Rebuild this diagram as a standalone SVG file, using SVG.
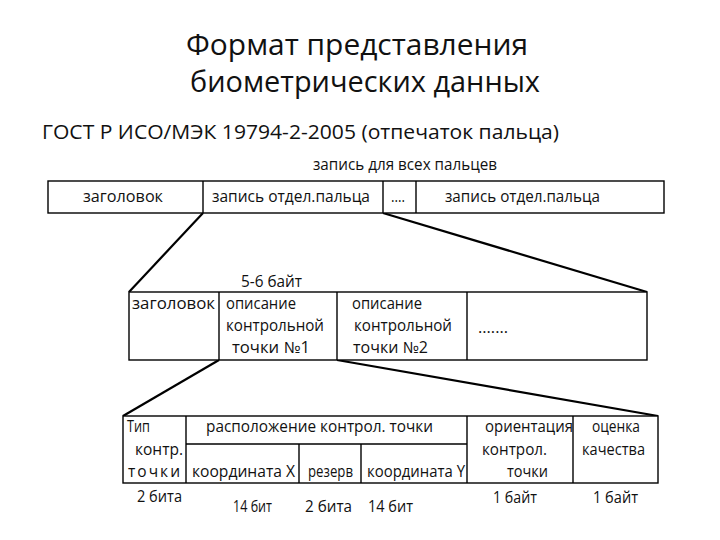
<svg xmlns="http://www.w3.org/2000/svg" width="720" height="540" viewBox="0 0 720 540">
<style>
text { font-family: "Open Sans", "Noto Sans", "DejaVu Sans", sans-serif; fill: #111; }
.t { font-size: 30px; }
.g { font-size: 20px; }
.s { font-size: 15.5px; }
.box { fill: #fff; stroke: #000; stroke-width: 1.4; }
.div { stroke: #000; stroke-width: 1.4; fill: none; }
.con { stroke: #000; stroke-width: 2.2; fill: none; }
</style>
<rect x="0" y="0" width="720" height="540" fill="#fff"/>

<g id="title">
<text class="t" x="186" y="55" textLength="342" lengthAdjust="spacingAndGlyphs">Формат представления</text>
<text class="t" x="190" y="92" textLength="350" lengthAdjust="spacingAndGlyphs">биометрических данных</text>
</g>
<g id="subtitle">
<text class="g" x="42" y="139" textLength="517" lengthAdjust="spacingAndGlyphs">ГОСТ Р ИСО/МЭК 19794-2-2005 (отпечаток пальца)</text>
</g>

<g id="connectors">
<line class="con" x1="203" y1="213" x2="129" y2="292"/>
<line class="con" x1="383" y1="213" x2="647" y2="292"/>
<line class="con" x1="219" y1="360" x2="123" y2="416"/>
<line class="con" x1="337" y1="360" x2="658" y2="416"/>
</g>

<g id="all-fingers-record">
<text class="s" x="313" y="170" textLength="184" lengthAdjust="spacingAndGlyphs">запись для всех пальцев</text>
<rect class="box" x="48" y="181" width="616" height="32"/>
<line class="div" x1="203" y1="181" x2="203" y2="213"/>
<line class="div" x1="383" y1="181" x2="383" y2="213"/>
<line class="div" x1="416" y1="181" x2="416" y2="213"/>
<text class="s" x="83" y="202" textLength="80" lengthAdjust="spacingAndGlyphs">заголовок</text>
<text class="s" x="212" y="202" textLength="158" lengthAdjust="spacingAndGlyphs">запись отдел.пальца</text>
<text class="s" x="391" y="202" textLength="14" lengthAdjust="spacingAndGlyphs">....</text>
<text class="s" x="445" y="202" textLength="155" lengthAdjust="spacingAndGlyphs">запись отдел.пальца</text>
</g>

<g id="finger-record">
<text class="s" x="241" y="287" textLength="61" lengthAdjust="spacingAndGlyphs">5-6 байт</text>
<rect class="box" x="129" y="292" width="518" height="68"/>
<line class="div" x1="219" y1="292" x2="219" y2="360"/>
<line class="div" x1="337" y1="292" x2="337" y2="360"/>
<line class="div" x1="467" y1="292" x2="467" y2="360"/>
<text class="s" x="132" y="309" textLength="83" lengthAdjust="spacingAndGlyphs">заголовок</text>
<text class="s" x="226" y="309" textLength="70" lengthAdjust="spacingAndGlyphs">описание</text>
<text class="s" x="226" y="331" textLength="98" lengthAdjust="spacingAndGlyphs">контрольной</text>
<text class="s" x="232" y="353" textLength="78" lengthAdjust="spacingAndGlyphs">точки №1</text>
<text class="s" x="352" y="309" textLength="70" lengthAdjust="spacingAndGlyphs">описание</text>
<text class="s" x="354" y="331" textLength="98" lengthAdjust="spacingAndGlyphs">контрольной</text>
<text class="s" x="353" y="353" textLength="75" lengthAdjust="spacingAndGlyphs">точки №2</text>
<text class="s" x="478" y="333" textLength="30" lengthAdjust="spacingAndGlyphs">.......</text>
</g>

<g id="minutia-record">
<rect class="box" x="123" y="416" width="535" height="67"/>
<line class="div" x1="186" y1="444" x2="467" y2="444"/>
<line class="div" x1="186" y1="416" x2="186" y2="483"/>
<line class="div" x1="299" y1="444" x2="299" y2="483"/>
<line class="div" x1="361" y1="444" x2="361" y2="483"/>
<line class="div" x1="467" y1="416" x2="467" y2="483"/>
<line class="div" x1="573" y1="416" x2="573" y2="483"/>
<text class="s" x="127" y="432" textLength="23" lengthAdjust="spacingAndGlyphs">Тип</text>
<text class="s" x="135" y="455" textLength="48" lengthAdjust="spacingAndGlyphs">контр.</text>
<text class="s" x="128" y="477" textLength="52" lengthAdjust="spacing">точки</text>
<text class="s" x="206" y="432" textLength="227" lengthAdjust="spacingAndGlyphs">расположение контрол. точки</text>
<text class="s" x="192" y="477" textLength="103" lengthAdjust="spacingAndGlyphs">координата X</text>
<text class="s" x="308" y="477" textLength="45" lengthAdjust="spacingAndGlyphs">резерв</text>
<text class="s" x="367" y="477" textLength="98" lengthAdjust="spacingAndGlyphs">координата Y</text>
<text class="s" x="485" y="432" textLength="88" lengthAdjust="spacingAndGlyphs">ориентация</text>
<text class="s" x="482" y="455" textLength="65" lengthAdjust="spacingAndGlyphs">контрол.</text>
<text class="s" x="507" y="477" textLength="41" lengthAdjust="spacingAndGlyphs">точки</text>
<text class="s" x="592" y="432" textLength="48" lengthAdjust="spacingAndGlyphs">оценка</text>
<text class="s" x="582" y="455" textLength="63" lengthAdjust="spacingAndGlyphs">качества</text>
</g>

<g id="sizes">
<text class="s" x="137" y="502" textLength="45" lengthAdjust="spacingAndGlyphs">2 бита</text>
<text class="s" x="233" y="512" textLength="39" lengthAdjust="spacingAndGlyphs">14 бит</text>
<text class="s" x="305" y="512" textLength="47" lengthAdjust="spacingAndGlyphs">2 бита</text>
<text class="s" x="368" y="512" textLength="45" lengthAdjust="spacingAndGlyphs">14 бит</text>
<text class="s" x="493" y="503" textLength="44" lengthAdjust="spacingAndGlyphs">1 байт</text>
<text class="s" x="593" y="503" textLength="45" lengthAdjust="spacingAndGlyphs">1 байт</text>
</g>
</svg>
